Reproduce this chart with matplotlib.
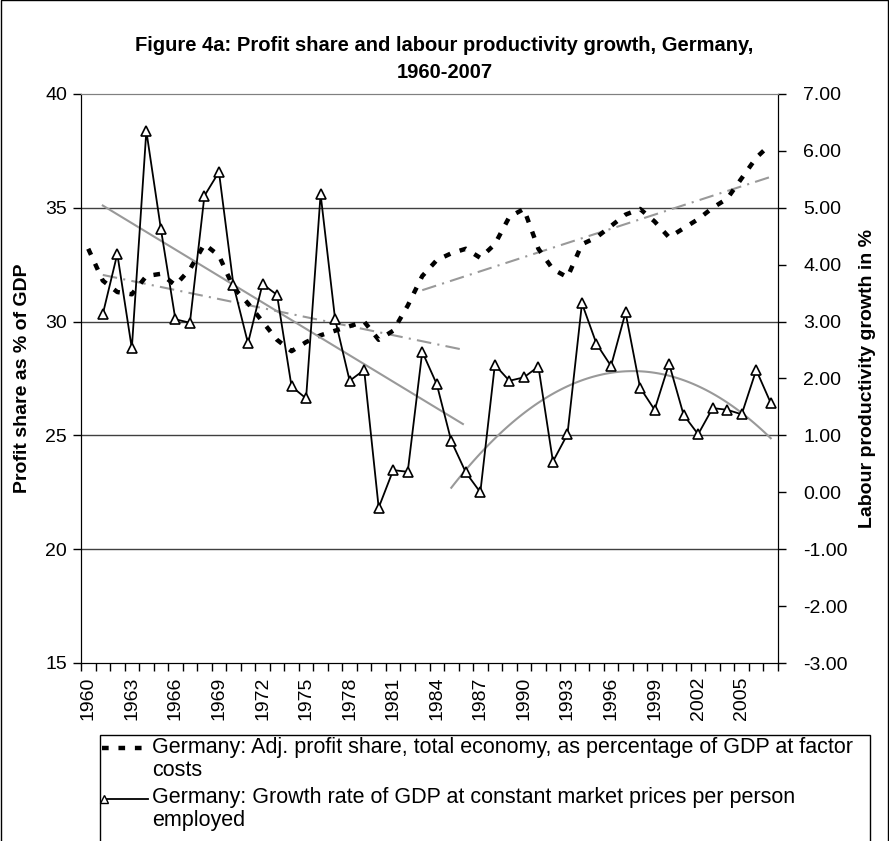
import matplotlib
matplotlib.use("Agg")
import matplotlib.pyplot as plt
import numpy as np
from matplotlib.lines import Line2D
from matplotlib.patches import Rectangle

plt.rcParams["font.family"] = ["Liberation Sans", "DejaVu Sans"]

# =====================
# Data
# =====================
years = np.arange(1960, 2008)

profit_share = [33.2, 31.8, 31.3, 31.2, 32.0, 32.1, 31.6, 32.3, 33.4, 32.9,
                31.5, 30.8, 30.0, 29.2, 28.7, 29.1, 29.4, 29.6, 29.8, 30.0,
                29.2, 29.6, 30.7, 32.0, 32.7, 33.0, 33.2, 32.8, 33.4, 34.6,
                34.95, 33.2, 32.3, 31.95, 33.4, 33.7, 34.2, 34.7, 34.95, 34.4,
                33.7, 34.1, 34.5, 35.0, 35.4, 36.3, 37.2, 37.8]

# growth series starts in 1961
growth_years = np.arange(1961, 2008)
growth = [3.13, 4.19, 2.53, 6.35, 4.63, 3.04, 2.98, 5.21, 5.63, 3.64,
          2.62, 3.66, 3.47, 1.86, 1.65, 5.24, 3.04, 1.96, 2.15, -0.27,
          0.39, 0.36, 2.47, 1.90, 0.90, 0.35, 0.00, 2.24, 1.96, 2.02,
          2.21, 0.54, 1.02, 3.32, 2.61, 2.22, 3.16, 1.84, 1.45, 2.26,
          1.36, 1.02, 1.48, 1.45, 1.37, 2.15, 1.57]

# trend lines (end points)
trend_profit1_years = [1961, 1985.7]
trend_profit1_vals = [32.05, 28.78]
trend_profit2_years = [1983, 2007]
trend_profit2_vals = [31.38, 36.36]
trend_growth1_years = [1961, 1985.8]
trend_growth1_vals = [5.04, 1.20]
# polynomial trend (2nd order), anchor points
trend_growth2_years = [1985, 1996, 2007]
trend_growth2_vals = [0.08, 2.10, 0.95]

year_labels = [str(y) for y in range(1960, 2008, 3)]

title = "Figure 4a: Profit share and labour productivity growth, Germany,\n1960-2007"
label_profit = ("Germany: Adj. profit share, total economy, as percentage of GDP at factor\n"
                "costs")
label_growth = ("Germany: Growth rate of GDP at constant market prices per person\n"
                "employed")

GRAY = "#999999"


def xpos(y):
    return np.asarray(y, dtype=float) - 1960


# =====================
# Figure
# =====================
W, H = 889, 841
fig = plt.figure(figsize=(W / 100, H / 100), dpi=100)
left, right, top, bottom = 81, 778, 94, 663
ax = fig.add_axes([left / W, 1 - bottom / H, (right - left) / W, (bottom - top) / H])
ax2 = ax.twinx()

# left axis
ax.set_xlim(-0.5, len(years) - 0.5)
ax.set_ylim(15, 40)
ax.set_yticks(np.arange(15, 41, 5))
for v in [20, 25, 30, 35]:
    ax.axhline(v, color="#404040", lw=1.0, zorder=0)

ax.plot(xpos(years), profit_share, color="black", lw=3.2,
        dashes=(1.5, 2.2), zorder=3)
ax.plot(xpos(trend_profit1_years), trend_profit1_vals, color=GRAY, lw=1.5,
        dashes=(7, 3, 1, 3), zorder=2)
ax.plot(xpos(trend_profit2_years), trend_profit2_vals, color=GRAY, lw=1.5,
        dashes=(7, 3, 1, 3), zorder=2)

# right axis
ax2.set_ylim(-3, 7)
ax2.set_yticks(np.arange(-3, 7.01, 1))
ax2.set_yticklabels([f"{v:.2f}" for v in np.arange(-3, 7.01, 1)])

ax2.plot(xpos(trend_growth1_years), trend_growth1_vals, color=GRAY, lw=1.5, zorder=2)
coef = np.polyfit(trend_growth2_years, trend_growth2_vals, 2)
ty = np.linspace(trend_growth2_years[0], trend_growth2_years[-1], 100)
ax2.plot(xpos(ty), np.polyval(coef, ty), color=GRAY, lw=1.5, zorder=2)
ax2.plot(xpos(growth_years), growth, color="black", lw=1.3, marker="^",
         markersize=7, markerfacecolor="white", markeredgecolor="black",
         markeredgewidth=1.2, zorder=4)

# x ticks: marks on category boundaries, labels every 3 years
ax.set_xticks(np.arange(0, len(years), 3))
ax.set_xticklabels(year_labels, rotation=90, fontsize=14)
ax.set_xticks(np.arange(-0.5, len(years), 1), minor=True)
ax.tick_params(axis="x", which="major", length=0, pad=10)
ax.tick_params(axis="x", which="minor", length=6, width=1, color="black",
               direction="out")
ax.tick_params(axis="y", length=6, width=1, direction="out", labelsize=14, pad=4)
ax2.tick_params(axis="y", length=6, width=1, direction="out", labelsize=14, pad=12)

for a in (ax, ax2):
    a.spines["top"].set_color("#808080")
    a.spines["left"].set_color("black")
    a.spines["right"].set_color("black")
    a.spines["bottom"].set_color("black")
    a.patch.set_visible(False)

ax.set_ylabel("Profit share as % of GDP", fontsize=14, fontweight="bold",
              labelpad=10)
ax2.set_ylabel("Labour productivity growth in %", fontsize=14,
               fontweight="bold", labelpad=8)

fig.text(0.5, 1 - 59 / H, title, ha="center", va="center",
         fontsize=14.5, fontweight="bold", linespacing=1.5)

# =====================
# Legend (box cut by the bottom edge)
# =====================
lx0, ly0, lx1 = 100, 735, 870
fig.patches.append(Rectangle((lx0 / W, -0.05), (lx1 - lx0) / W, 1 - ly0 / H + 0.05,
                             transform=fig.transFigure, fill=False,
                             edgecolor="black", lw=1.0))
fig.lines.append(Line2D([102 / W, 148 / W], [1 - 748 / H] * 2,
                        transform=fig.transFigure, color="black", lw=3.2,
                        dashes=(1.5, 2.2)))
fig.lines.append(Line2D([104 / W, 148 / W], [1 - 799 / H] * 2,
                        transform=fig.transFigure, color="black", lw=1.3,
                        marker="^", markevery=[0], markersize=6,
                        markerfacecolor="white", markeredgecolor="black"))
fig.text(152 / W, 1 - 737 / H, label_profit, ha="left", va="top",
         fontsize=15.5, linespacing=1.1)
fig.text(152 / W, 1 - 787 / H, label_growth, ha="left", va="top",
         fontsize=15.5, linespacing=1.1)

# chart border
fig.patches.append(Rectangle((0.5 / W, -0.05), (W - 1.5) / W, 1.05 - 0.5 / H,
                             transform=fig.transFigure, fill=False,
                             edgecolor="black", lw=1.0))

fig.savefig("out.png", dpi=100)
